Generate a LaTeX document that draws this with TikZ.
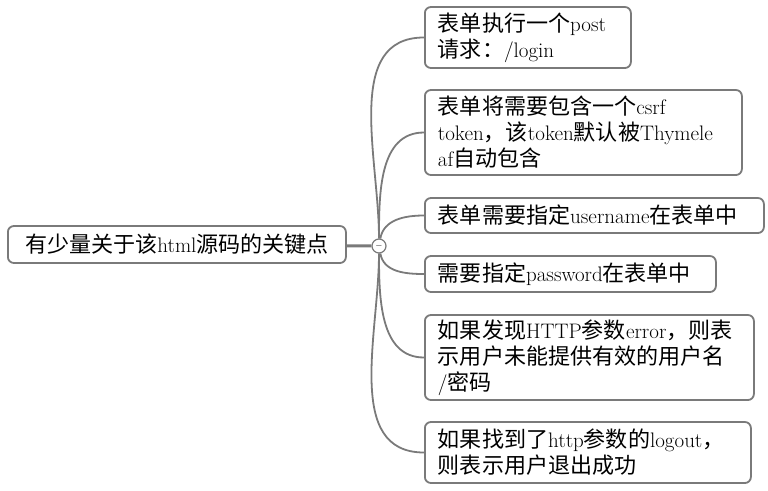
\documentclass[tikz,border=0pt]{standalone}
\usepackage{fontspec}
\newfontfamily\cjk[Scale=1.05]{Noto Sans CJK SC}
\newcommand{\zh}[1]{{\cjk #1}}
\usetikzlibrary{arrows}
\definecolor{mapgray}{RGB}{122,122,122}

\begin{document}
\begin{tikzpicture}[x=1pt, y=-1pt,
  font=\fontsize{21}{26}\selectfont,
  box/.style={draw=mapgray, line width=1.8pt, rounded corners=6pt, fill=white, inner xsep=13pt, inner ysep=0pt},
  leaf/.style={box, anchor=west, align=left},
  hub/.style={draw=mapgray, line width=1.2pt, circle, fill=white, minimum size=14pt, inner sep=0pt, font=\fontsize{9}{9}\selectfont},
  link/.style={draw=mapgray, line width=1.8pt}]

  \useasboundingbox (0,0) rectangle (768,490);

  % Define nodes
  \node[box, anchor=west, minimum width=338pt, minimum height=37pt] (keypoints) at (7,244.5) {\zh{有少量关于该}html\zh{源码的关键点}};
  \node[hub] (fold) at (379,246) {$-$};

  \node[leaf, text width=180pt, minimum height=61pt] (post) at (424,37.5) {\zh{表单执行一个}post\\\zh{请求：}/login};
  \node[leaf, text width=291pt, minimum height=85pt] (csrf) at (424,132.5) {\zh{表单将需要包含一个}csrf\\token\zh{，该}token\zh{默认被}Thymele\\af\zh{自动包含}};
  \node[leaf, text width=313pt, minimum height=35pt] (user) at (424,215.5) {\zh{表单需要指定}username\zh{在表单中}};
  \node[leaf, text width=265pt, minimum height=36pt] (pass) at (424,274) {\zh{需要指定}password\zh{在表单中}};
  \node[leaf, text width=303pt, minimum height=85pt] (error) at (424,357.5) {\zh{如果发现}HTTP\zh{参数}error\zh{，则表}\\\zh{示用户未能提供有效的用户名}\\/\zh{密码}};
  \node[leaf, text width=300pt, minimum height=61pt] (logout) at (424,452.5) {\zh{如果找到了}http\zh{参数的}logout\zh{，}\\\zh{则表示用户退出成功}};

  % Connect the nodes
  \draw[link, line width=3pt] (keypoints) -- (fold);
  \draw[link] (fold) to[out=90, in=180] (post.west);
  \draw[link] (fold) to[out=90, in=180] (csrf.west);
  \draw[link] (fold) to[out=80, in=180] (user.west);
  \draw[link] (fold) to[out=-80, in=180] (pass.west);
  \draw[link] (fold) to[out=-90, in=180] (error.west);
  \draw[link] (fold) to[out=-90, in=180] (logout.west);

\end{tikzpicture}
\end{document}
